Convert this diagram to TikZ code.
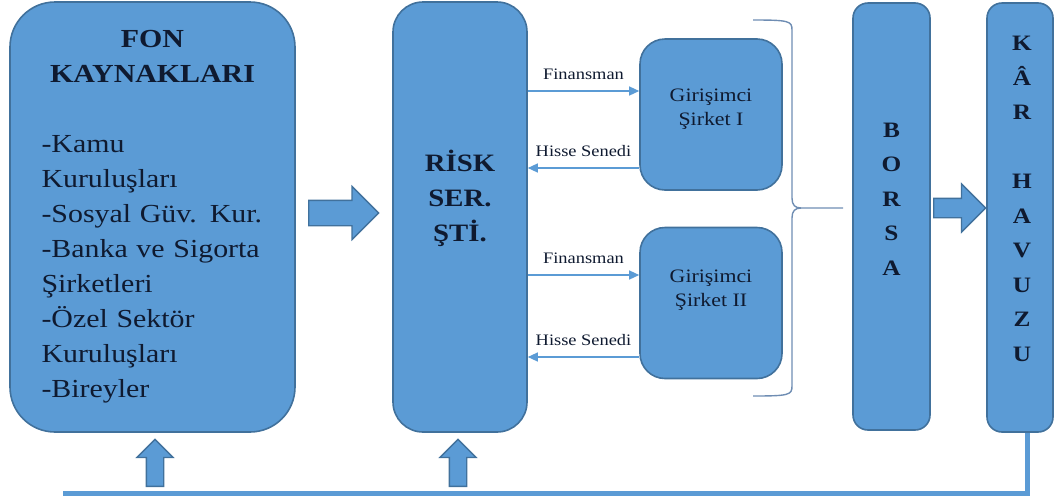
\documentclass[tikz,border=0pt]{standalone}
\usepackage{fontspec}
\setmainfont{Liberation Serif}[FakeStretch=1.15]
\usepackage{xcolor}
\usetikzlibrary{shapes.arrows,arrows.meta}
\definecolor{boxfill}{HTML}{5B9BD5}
\definecolor{boxline}{HTML}{41719C}
\definecolor{inktext}{HTML}{0F1A30}
\definecolor{bracecol}{HTML}{6F8DB3}
\begin{document}
\begin{tikzpicture}[x=1pt,y=-1pt,>={Triangle[length=10pt,width=9pt]},
    box/.style={draw=boxline,line width=1.6pt,fill=boxfill,rounded corners=#1,inner sep=0pt},
    box/.default=20pt,
    blockarrow/.style={single arrow,draw=boxline,line width=1.3pt,fill=boxfill,inner xsep=0pt,
        minimum width=0pt,anchor=tail},
    flow/.style={->,draw=boxfill,line width=1.3pt},
    flowlbl/.style={font=\fontsize{16}{18}\selectfont,text=inktext,inner sep=1pt,above=10pt},
    stack/.style={align=center,text=inktext,inner sep=0pt,font=\fontsize{22}{34.5}\selectfont\bfseries}]
\useasboundingbox (0,0) rectangle (1055,499);
\node[box=45pt,minimum width=285pt,minimum height=430pt,text width=222pt,align=left,text=inktext,
    font=\fontsize{26}{35}\selectfont] (fon) at (152.5,217) {{\centering\bfseries FON\\KAYNAKLARI\par}\vskip35pt
    -Kamu\\Kuruluşları\\-Sosyal Güv. Kur.\\-Banka ve Sigorta\\Şirketleri\\-Özel Sektör\\Kuruluşları\\-Bireyler};
\node[box=30pt,minimum width=134pt,minimum height=430pt] (risk) at (460,217) {};
\node[stack,font=\fontsize{25}{35}\selectfont\bfseries] (risktxt) at (460,198) {RİSK\\SER.\\ŞTİ.};
\node[box=25pt,minimum width=142pt,minimum height=151pt] (g1) at (711,114.5) {};
\node[stack,font=\fontsize{19}{24}\selectfont] (g1txt) at (711,109) {Girişimci\\Şirket I};
\node[box=25pt,minimum width=142pt,minimum height=151pt] (g2) at (711,303) {};
\node[stack,font=\fontsize{19}{24}\selectfont] (g2txt) at (711,290) {Girişimci\\Şirket II};
\node[box=15pt,minimum width=77pt,minimum height=427pt] (borsa) at (891.5,216.5) {};
\node[stack] (borsatxt) at (891.5,199) {B\\O\\R\\S\\A};
\node[box=15pt,minimum width=66pt,minimum height=429pt] (kar) at (1020,217.5) {};
\node[stack] (kartxt) at (1022,199) {K\\Â\\R\\\mbox{}\\H\\A\\V\\U\\Z\\U};

\node[blockarrow,minimum height=70pt,inner ysep=12pt,single arrow head extend=14pt] (fonarrow) at (308,213) {};
\node[blockarrow,minimum height=52pt,inner ysep=9pt,single arrow head extend=14.5pt] (borsaarrow) at (933,208) {};
\node[blockarrow,rotate=90,minimum height=47pt,inner ysep=8pt,single arrow head extend=9.5pt] (fonup) at (155,487) {};
\node[blockarrow,rotate=90,minimum height=47pt,inner ysep=8pt,single arrow head extend=9.5pt] (riskup) at (458,487) {};

\draw[flow] (risk.east |- 0,91) -- (g1.west |- 0,91) node[midway,flowlbl] {Finansman};
\draw[flow] (g1.west |- 0,168) -- (risk.east |- 0,168) node[midway,flowlbl] {Hisse Senedi};
\draw[flow] (risk.east |- 0,275) -- (g2.west |- 0,275) node[midway,flowlbl] {Finansman};
\draw[flow] (g2.west |- 0,357) -- (risk.east |- 0,357) node[midway,flowlbl] {Hisse Senedi};

\coordinate (bracetip) at (843,208);
\draw[bracecol,line width=1.4pt] (753,20) .. controls (789,20) and (792,21) .. (792,30) -- (792,198)
    .. controls (792,205) and (795,208) .. (801,208) -- (bracetip);
\draw[bracecol,line width=1.4pt] (801,208) .. controls (795,208) and (792,211) .. (792,218) -- (792,386)
    .. controls (792,395) and (789,396) .. (753,396);

\coordinate (loopend) at (63,493);
\draw[boxfill,line width=5pt] ([xshift=7pt]kar.south) |- (loopend);
\end{tikzpicture}
\end{document}
